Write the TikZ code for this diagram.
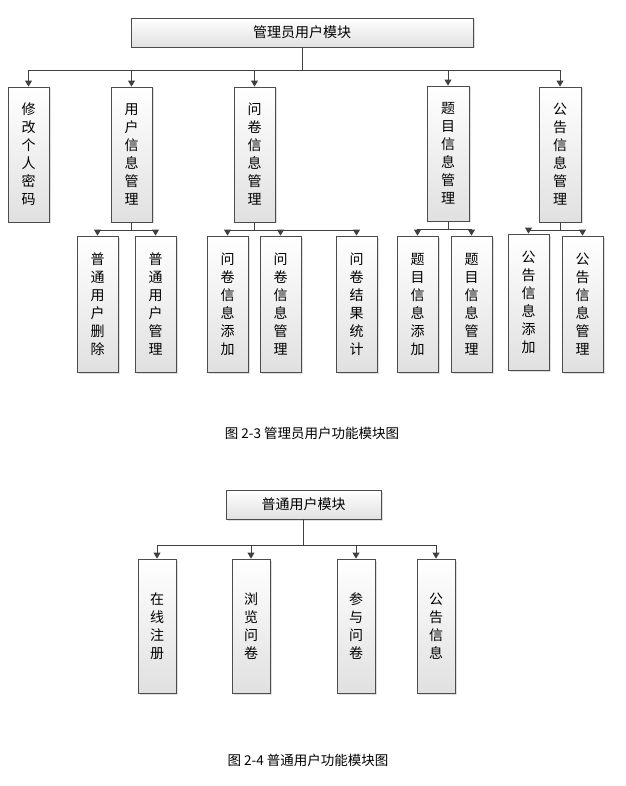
\documentclass[tikz,border=0pt]{standalone}
\usepackage{fontspec}
\setmainfont{Noto Sans CJK SC}
\usetikzlibrary{arrows.meta,shadows}
\begin{document}
\begin{tikzpicture}[x=1pt,y=-1pt,
 bx/.style={draw=black!70,line width=0.8pt,top color=white,bottom color=black!12,drop shadow={opacity=0.25,shadow xshift=1.5pt,shadow yshift=-1.5pt},inner sep=0pt,font=\fontsize{14}{18}\selectfont,align=center},
 ln/.style={draw=black!75,line width=1pt},
 ar/.style={ln,-{Triangle[width=7pt,length=6pt]}}]
\useasboundingbox (0,0) rectangle (625,786);
\newcommand\bxat[5]{\node[bx,minimum width=#3-#1,minimum height=#4-#2] at ({(#1+#3)/2},{(#2+#4)/2}) (#5)}
\bxat{131}{18}{473}{47}{top} {管理员用户模块};
\bxat{8}{87}{49}{222}{a} {修\\改\\个\\人\\密\\码};
\bxat{111}{87}{152}{222}{b} {用\\户\\信\\息\\管\\理};
\bxat{234}{87}{275}{222}{c} {\fontsize{14}{15}\selectfont 问\\卷\\信\\息\\管\\理};
\bxat{427}{86}{469}{221}{d} {题\\目\\信\\息\\管\\理};
\bxat{539}{87}{581}{222}{e} {公\\告\\信\\息\\管\\理};
\bxat{77}{236}{118}{372}{b1} {普\\通\\用\\户\\删\\除};
\bxat{135}{236}{176}{372}{b2} {普\\通\\用\\户\\管\\理};
\bxat{207}{236}{248}{372}{c1} {问\\卷\\信\\息\\添\\加};
\bxat{260}{236}{301}{372}{c2} {问\\卷\\信\\息\\管\\理};
\bxat{336}{236}{377}{372}{c3} {问\\卷\\结\\果\\统\\计};
\bxat{397}{236}{438}{372}{d1} {题\\目\\信\\息\\添\\加};
\bxat{451}{236}{492}{372}{d2} {题\\目\\信\\息\\管\\理};
\bxat{508}{234}{549}{370}{e1} {公\\告\\信\\息\\添\\加};
\bxat{562}{236}{603}{372}{e2} {公\\告\\信\\息\\管\\理};
\draw[ln] (top.south) -- ++(0,23) coordinate (j);
\foreach \n in {a,b,c,d,e} \draw[ar] (j) -| (\n.north);
\foreach \p/\l/\r in {b/b1/b2,c/c1/c3,d/d1/d2,e/e1/e2}{
 \draw[ln] (\p.south) -- ++(0,8) coordinate (k\p);
 \draw[ar] (k\p) -| (\l.north);
 \draw[ar] (k\p) -| (\r.north);}
\draw[ar] (kc) -| (c2.north);
\node[font=\fontsize{13.5}{15}\selectfont] (cap1) at (312,433) {图 2-3 管理员用户功能模块图};
\bxat{226}{490}{381}{519}{t2} {普通用户模块};
\bxat{138}{559}{176}{693}{f1} {在\\线\\注\\册};
\bxat{232}{559}{270}{693}{f2} {浏\\览\\问\\卷};
\bxat{337}{559}{375}{693}{f3} {参\\与\\问\\卷};
\bxat{417}{559}{455}{693}{f4} {公\\告\\信\\息};
\draw[ln] (t2.south) -- ++(0,26) coordinate (j2);
\foreach \n in {f1,f2,f3,f4} \draw[ar] (j2) -| (\n.north);
\node[font=\fontsize{13.5}{15}\selectfont] (cap2) at (308,760) {图 2-4 普通用户功能模块图};
\end{tikzpicture}
\end{document}
